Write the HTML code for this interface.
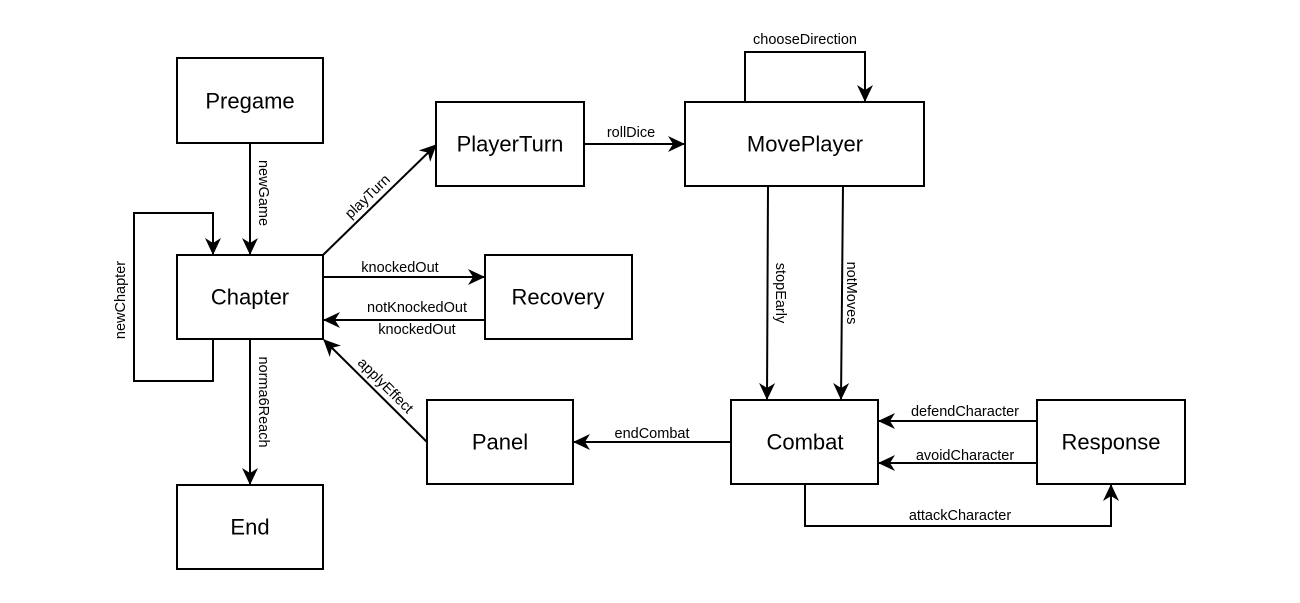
<!DOCTYPE html>
<html><head><meta charset="utf-8"><style>
html,body{margin:0;padding:0;background:#fff;}
svg{display:block;}
text{font-family:"Liberation Sans",Arial,sans-serif;fill:#000;}
.b{font-size:22px;text-anchor:middle;dominant-baseline:central;}
.l{font-size:14.5px;text-anchor:middle;dominant-baseline:central;}
</style></head><body>
<svg width="1300" height="603" viewBox="0 0 1300 603" xmlns="http://www.w3.org/2000/svg">
<defs>
<marker id="a" markerWidth="18" markerHeight="18" refX="16" refY="8" orient="auto" markerUnits="userSpaceOnUse">
<path d="M0,0 L17,8 L0,16 L5,8 Z" fill="#000"/>
</marker>
</defs>
<g fill="#fff" stroke="#000" stroke-width="2">
<rect x="177" y="58" width="146" height="85"/>
<rect x="177" y="255" width="146" height="84"/>
<rect x="177" y="485" width="146" height="84"/>
<rect x="436" y="102" width="148" height="84"/>
<rect x="685" y="102" width="239" height="84"/>
<rect x="485" y="255" width="147" height="84"/>
<rect x="427" y="400" width="146" height="84"/>
<rect x="731" y="400" width="147" height="84"/>
<rect x="1037" y="400" width="148" height="84"/>
</g>
<text class="b" x="250" y="101">Pregame</text>
<text class="b" x="250" y="297">Chapter</text>
<text class="b" x="250" y="527">End</text>
<text class="b" x="510" y="144">PlayerTurn</text>
<text class="b" x="805" y="144">MovePlayer</text>
<text class="b" x="558" y="297">Recovery</text>
<text class="b" x="500" y="442">Panel</text>
<text class="b" x="805" y="442">Combat</text>
<text class="b" x="1111" y="442">Response</text>
<g fill="none" stroke="#000" stroke-width="2" marker-end="url(#a)">
<path d="M250,143 L250,254"/>
<path d="M213,339 L213,381 L134,381 L134,213 L213,213 L213,254"/>
<path d="M250,339 L250,484"/>
<path d="M323,255 L436,145"/>
<path d="M323,277 L484,277"/>
<path d="M485,320 L324,320"/>
<path d="M427,442 L324,340"/>
<path d="M584,144 L684,144"/>
<path d="M745,102 L745,52 L865,52 L865,101"/>
<path d="M768,186 L767,399"/>
<path d="M843,186 L841,399"/>
<path d="M731,442 L574,442"/>
<path d="M1037,421 L879,421"/>
<path d="M1037,463 L879,463"/>
<path d="M805,484 L805,526 L1111,526 L1111,485"/>
</g>
<text class="l" transform="translate(263,193) rotate(90)">newGame</text>
<text class="l" transform="translate(121,300) rotate(-90)">newChapter</text>
<text class="l" transform="translate(263,402) rotate(90)">norma6Reach</text>
<text class="l" transform="translate(368,197) rotate(-44)">playTurn</text>
<text class="l" x="400" y="268">knockedOut</text>
<text class="l" x="417" y="308">notKnockedOut</text>
<text class="l" x="417" y="330">knockedOut</text>
<text class="l" transform="translate(385,386) rotate(45)">applyEffect</text>
<text class="l" x="631" y="133">rollDice</text>
<text class="l" x="805" y="40">chooseDirection</text>
<text class="l" transform="translate(780,293) rotate(90)">stopEarly</text>
<text class="l" transform="translate(851,293) rotate(90)">notMoves</text>
<text class="l" x="652" y="434">endCombat</text>
<text class="l" x="965" y="412">defendCharacter</text>
<text class="l" x="965" y="456">avoidCharacter</text>
<text class="l" x="960" y="516">attackCharacter</text>
</svg>
</body></html>
